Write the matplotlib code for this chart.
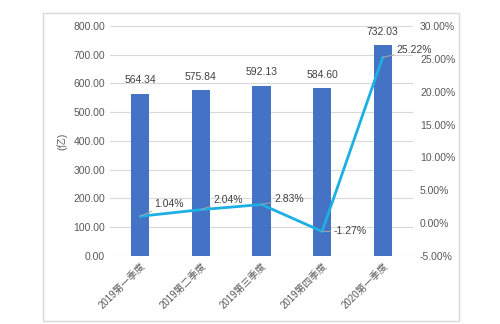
import matplotlib.pyplot as plt
from matplotlib.patches import Rectangle
from matplotlib.ticker import FuncFormatter

plt.rcParams['font.family'] = ['Liberation Sans', 'Noto Sans CJK SC', 'DejaVu Sans']

quarters = ['2019第一季度', '2019第二季度', '2019第三季度', '2019第四季度', '2020第一季度']
amount = [564.34, 575.84, 592.13, 584.60, 732.03]   # 亿
growth = [1.04, 2.04, 2.83, -1.27, 25.22]           # %

# offsets of the growth labels (points)
lbl_off = [(10, 9), (9, 7), (9, 4), (8, 0), (10, 5)]

fig = plt.figure(figsize=(5, 3.24), dpi=100)
fig.patches.append(Rectangle((43 / 500, 1 - 321 / 324), 416 / 500, 308 / 324,
                             transform=fig.transFigure, fill=False,
                             edgecolor='#d9d9d9', linewidth=1))

ax = fig.add_axes([0.22, 0.21, 0.606, 0.71])
x = range(len(quarters))
ax.bar(x, amount, width=0.3, color='#4472C4', zorder=2)
ax.set_ylim(0, 800)
ax.set_yticks(range(0, 801, 100))
ax.yaxis.set_major_formatter(FuncFormatter(lambda v, p: f'{v:.2f}'))
ax.set_xlim(-0.5, len(quarters) - 0.5)
ax.grid(axis='y', color='#d9d9d9', linewidth=0.8, zorder=0)
for s in ax.spines.values():
    s.set_visible(False)
ax.tick_params(length=0, labelsize=7.5, colors='#595959')
ax.tick_params(axis='x', labelsize=7)
ax.set_xticks(list(x))
ax.set_xticklabels(quarters, rotation=45, ha='right', rotation_mode='anchor')
ax.set_ylabel('(亿)', fontsize=7.5, color='#595959', labelpad=4)
for i, v in enumerate(amount):
    ax.annotate(f'{v:.2f}', (i, v), xytext=(0, 6), textcoords='offset points',
                ha='center', va='bottom', fontsize=7.5, color='#404040')

ax2 = ax.twinx()
ax2.plot(list(x), growth, color='#1CAFE3', linewidth=2, zorder=3)
ax2.set_ylim(-5, 30)
ax2.set_yticks(range(-5, 31, 5))
ax2.yaxis.set_major_formatter(FuncFormatter(lambda v, p: f'{v:.2f}%'))
for s in ax2.spines.values():
    s.set_visible(False)
ax2.tick_params(length=0, labelsize=7.5, colors='#595959', pad=5)
for i, v in enumerate(growth):
    ax2.annotate(f'{v:.2f}%', (i, v), xytext=lbl_off[i], textcoords='offset points',
                 ha='left', va='center', fontsize=7.5, color='#404040',
                 arrowprops=dict(arrowstyle='-', color='#a6a6a6', lw=0.7,
                                 shrinkA=0, shrinkB=0))

fig.savefig('out.png', dpi=100)
